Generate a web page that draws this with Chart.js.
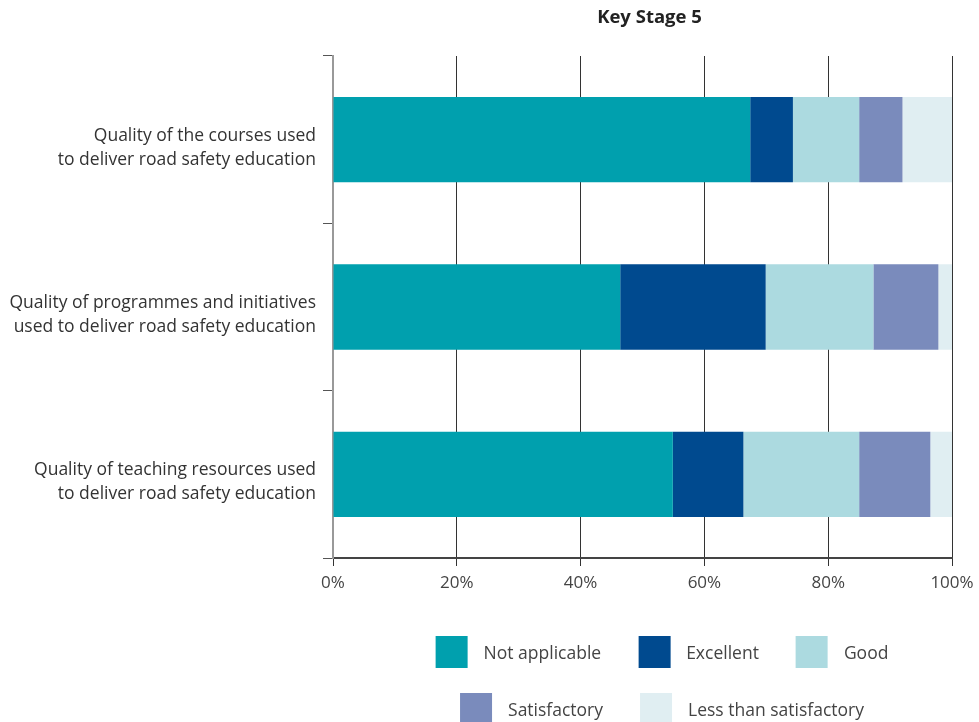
<!DOCTYPE html>
<html>
<head>
<meta charset="utf-8">
<script src="https://cdn.jsdelivr.net/npm/chart.js@4/dist/chart.umd.min.js"></script>
<style>
  html, body { margin: 0; padding: 0; background: #fff; }
  #wrap { position: relative; width: 979px; height: 722px; overflow: hidden; }
  #legend { position: absolute; left: 0; top: 636px; width: 979px; font-family: "Open Sans", sans-serif; font-size: 17.5px; color: #444; }
  .row { position: absolute; left: 662px; transform: translateX(-50%); display: flex; white-space: nowrap; }
  .item { display: flex; align-items: center; margin-right: 37px; }
  .item:last-child { margin-right: 0; }
  .box { width: 32px; height: 32px; margin-right: 16px; }
</style>
</head>
<body>
<div id="wrap">
  <canvas id="chart" width="979" height="722"></canvas>
  <div id="legend"></div>
</div>
<script>
const categories = [
  ["Quality of the courses used", "to deliver road safety education"],
  ["Quality of programmes and initiatives", "used to deliver road safety education"],
  ["Quality of teaching resources used", "to deliver road safety education"]
];
const seriesNames = ["Not applicable", "Excellent", "Good", "Satisfactory", "Less than satisfactory"];
const notApplicable = [67.4, 46.4, 54.9];
const excellent = [6.9, 23.5, 11.4];
const good = [10.7, 17.4, 18.7];
const satisfactory = [7.0, 10.5, 11.5];
const lessThanSatisfactory = [8.0, 2.2, 3.5];
const tickValues = [0, 20, 40, 60, 80, 100];

const colors = ["#00a0ae", "#004a8f", "#acdae0", "#7a8bbc", "#e0eef2"];
const values = [notApplicable, excellent, good, satisfactory, lessThanSatisfactory];

const titlePlugin = {
  id: "stageTitle",
  afterDraw(chart) {
    const c = chart.ctx, a = chart.chartArea;
    c.save();
    c.font = "bold 18.5px 'Open Sans', sans-serif";
    c.fillStyle = "#222";
    c.textAlign = "center";
    c.textBaseline = "middle";
    c.fillText("Key Stage 5", (a.left + a.right) / 2 + 7, 18);
    c.restore();
  }
};

const ctx = document.getElementById("chart");
const chart = new Chart(ctx, {
  type: "bar",
  data: {
    labels: categories,
    datasets: seriesNames.map((name, i) => ({
      label: name,
      data: values[i],
      backgroundColor: colors[i],
      borderWidth: 0,
      barPercentage: 0.51,
      categoryPercentage: 1
    }))
  },
  options: {
    indexAxis: "y",
    responsive: false,
    animation: false,
    layout: { padding: { top: 56, right: 27, bottom: 124, left: 0 } },
    plugins: { legend: { display: false }, tooltip: { enabled: false } },
    scales: {
      x: {
        stacked: true,
        min: 0,
        max: 100,
        afterBuildTicks: (scale) => { scale.ticks = tickValues.map(v => ({ value: v })); },
        afterFit: (scale) => {
          scale.height = 40;
          scale.paddingLeft = 0;
          scale.paddingRight = 0;
        },
        ticks: {
          callback: (v) => v + "%",
          color: "#444",
          padding: 7,
          maxRotation: 0,
          font: { family: "'Open Sans', sans-serif", size: 17 }
        },
        grid: { color: "#333", lineWidth: 1, tickLength: 8 },
        border: { color: "#444", width: 2 }
      },
      y: {
        stacked: true,
        afterFit: (scale) => { scale.width = 333; },
        ticks: {
          color: "#333",
          padding: 7,
          labelOffset: 8,
          crossAlign: "near",
          font: { family: "'Open Sans', sans-serif", size: 17.5, lineHeight: 1.37 }
        },
        grid: { drawOnChartArea: false, tickLength: 10, color: "#555", offset: true },
        border: { color: "#999", width: 2 }
      }
    }
  },
  plugins: [titlePlugin]
});

// legend, two centred rows like the original
const legendRows = [[0, 1, 2], [3, 4]];
const legend = document.getElementById("legend");
legendRows.forEach((idx, r) => {
  const row = document.createElement("div");
  row.className = "row";
  row.style.top = (r * 57) + "px";
  idx.forEach(i => {
    const item = document.createElement("div");
    item.className = "item";
    item.innerHTML = '<div class="box" style="background:' + colors[i] + '"></div><span>' + seriesNames[i] + '</span>';
    row.appendChild(item);
  });
  legend.appendChild(row);
});
</script>
</body>
</html>
